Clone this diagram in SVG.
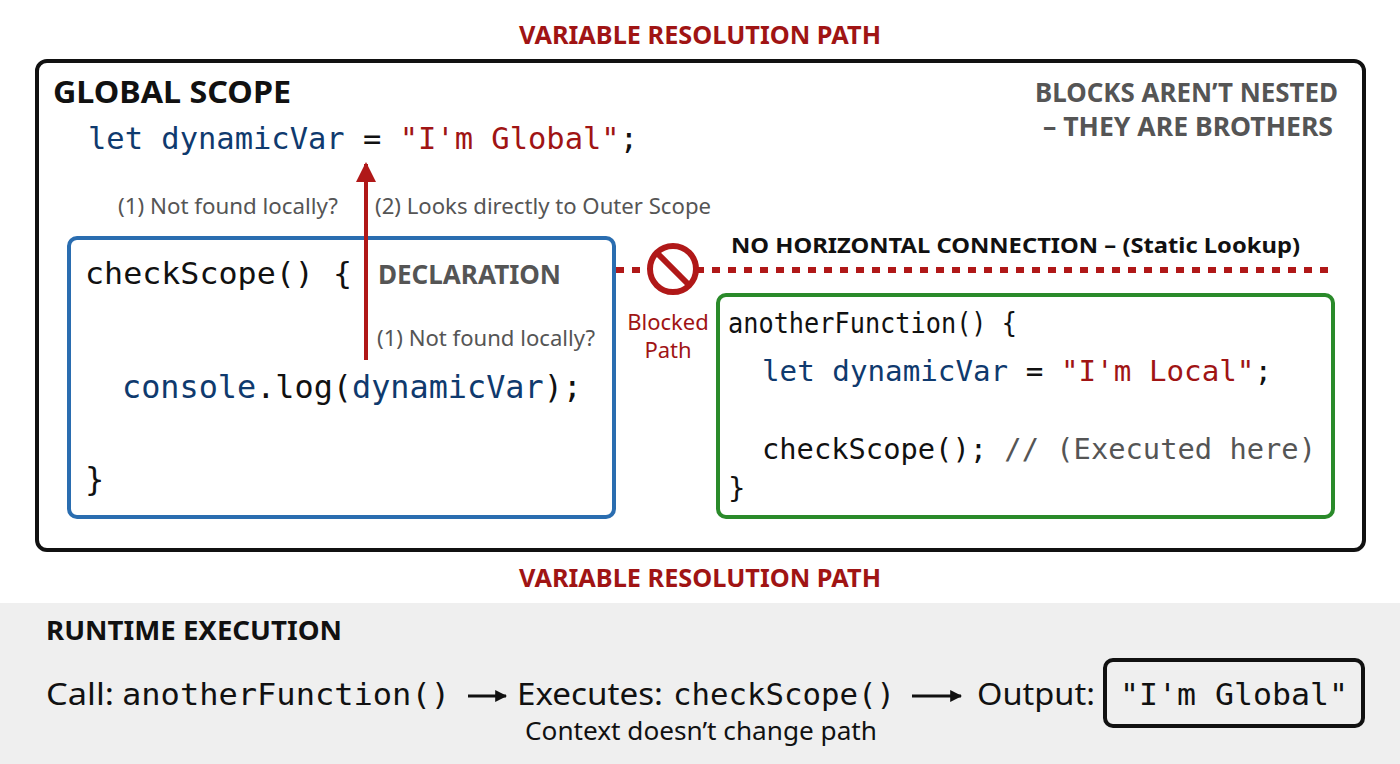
<svg xmlns="http://www.w3.org/2000/svg" width="1400" height="764" viewBox="0 0 1400 764">
<defs>
<style>
.s{font-family:"Noto Sans","Open Sans",sans-serif}
.m{font-family:"DejaVu Sans Mono","Liberation Mono",monospace}
.b{font-weight:bold}
.red{fill:#a01414}
.blue{fill:#0f3a6e}
.gr{fill:#555}
</style>
<marker id="ah" viewBox="0 0 10 10" refX="9" refY="5" markerWidth="5" markerHeight="5" orient="auto"><path d="M0,0L10,5L0,10z" fill="#b01818"/></marker>
<marker id="bh" viewBox="0 0 10 10" refX="9" refY="5" markerWidth="4" markerHeight="4" orient="auto"><path d="M0,0L10,5L0,10z" fill="#111"/></marker>
</defs>
<rect width="1400" height="764" fill="#fff"/>
<rect y="603" width="1400" height="161" fill="#efefef"/>
<text x="700" y="44" text-anchor="middle" class="s b red" font-size="25" textLength="362" lengthAdjust="spacingAndGlyphs">VARIABLE RESOLUTION PATH</text>
<text x="700" y="587" text-anchor="middle" class="s b red" font-size="25" textLength="362" lengthAdjust="spacingAndGlyphs">VARIABLE RESOLUTION PATH</text>
<g id="global">
<rect x="37" y="61" width="1327" height="489" rx="10" fill="none" stroke="#111" stroke-width="4"/>
<text x="53" y="103" class="s b" font-size="30" fill="#111" textLength="238" lengthAdjust="spacingAndGlyphs">GLOBAL SCOPE</text>
<text x="88" y="149" class="m" font-size="30" textLength="550" lengthAdjust="spacingAndGlyphs"><tspan class="blue">let dynamicVar</tspan><tspan fill="#111"> = </tspan><tspan class="red">"I'm Global"</tspan><tspan fill="#111">;</tspan></text>
<text x="1338" y="102" text-anchor="end" class="s b gr" font-size="26" textLength="303" lengthAdjust="spacingAndGlyphs">BLOCKS AREN’T NESTED</text>
<text x="1333" y="136" text-anchor="end" class="s b gr" font-size="26" textLength="290" lengthAdjust="spacingAndGlyphs">– THEY ARE BROTHERS</text>
<text x="338" y="214" text-anchor="end" class="s gr" font-size="21" textLength="220" lengthAdjust="spacingAndGlyphs">(1) Not found locally?</text>
<text x="375" y="214" class="s gr" font-size="21" textLength="336" lengthAdjust="spacingAndGlyphs">(2) Looks directly to Outer Scope</text>
</g>
<g id="checkScope">
<rect x="69" y="238" width="545" height="279" rx="8" fill="none" stroke="#2a6db0" stroke-width="4"/>
<text x="85" y="284" class="m" font-size="30" fill="#111" textLength="267" lengthAdjust="spacingAndGlyphs">checkScope() {</text>
<text x="378" y="284" class="s b gr" font-size="26" textLength="183" lengthAdjust="spacingAndGlyphs">DECLARATION</text>
<text x="377" y="346" class="s gr" font-size="21" textLength="218" lengthAdjust="spacingAndGlyphs">(1) Not found locally?</text>
<text x="122" y="398" class="m" font-size="32" textLength="460" lengthAdjust="spacingAndGlyphs"><tspan class="blue">console</tspan><tspan fill="#111">.log(</tspan><tspan class="blue">dynamicVar</tspan><tspan fill="#111">);</tspan></text>
<text x="85" y="490" class="m" font-size="32" fill="#111">}</text>
</g>
<g id="anotherFunction">
<rect x="718" y="295" width="615" height="222" rx="8" fill="none" stroke="#2a8a2a" stroke-width="4"/>
<text x="728" y="333" class="m" font-size="29" fill="#111" textLength="289" lengthAdjust="spacingAndGlyphs">anotherFunction() {</text>
<text x="762" y="381" class="m" font-size="29" textLength="510" lengthAdjust="spacingAndGlyphs"><tspan class="blue">let dynamicVar</tspan><tspan fill="#111"> = </tspan><tspan class="red">"I'm Local"</tspan><tspan fill="#111">;</tspan></text>
<text x="762" y="459" class="m" font-size="29" textLength="554" lengthAdjust="spacingAndGlyphs"><tspan fill="#111">checkScope(); </tspan><tspan fill="#555">// (Executed here)</tspan></text>
<text x="728" y="498" class="m" font-size="29" fill="#111">}</text>
</g>
<g id="connectors">
<line x1="366" y1="360" x2="366" y2="164" stroke="#b01818" stroke-width="4" marker-end="url(#ah)"/>
<line x1="616" y1="270" x2="1328" y2="270" stroke="#b01818" stroke-width="6" stroke-dasharray="8 8"/>
<circle cx="673" cy="269" r="23" fill="#fff" stroke="#b01818" stroke-width="6"/>
<line x1="657" y1="253" x2="689" y2="285" stroke="#b01818" stroke-width="6"/>
<line x1="468" y1="696" x2="506" y2="696" stroke="#111" stroke-width="3" marker-end="url(#bh)"/>
<line x1="912" y1="696" x2="961" y2="696" stroke="#111" stroke-width="3" marker-end="url(#bh)"/>
</g>
<text x="731" y="253" class="s b" font-size="22" fill="#111" textLength="569" lengthAdjust="spacingAndGlyphs">NO HORIZONTAL CONNECTION – (Static Lookup)</text>
<text x="668" y="330" text-anchor="middle" class="s red" font-size="22">Blocked</text>
<text x="668" y="358" text-anchor="middle" class="s red" font-size="22">Path</text>
<g id="runtime">
<text x="46" y="640" class="s b" font-size="26" fill="#111" textLength="296" lengthAdjust="spacingAndGlyphs">RUNTIME EXECUTION</text>
<text x="46" y="705" class="s" font-size="31" fill="#111" textLength="68" lengthAdjust="spacingAndGlyphs">Call:</text>
<text x="122" y="705" class="m" font-size="30" fill="#111" textLength="328" lengthAdjust="spacingAndGlyphs">anotherFunction()</text>
<text x="517" y="705" class="s" font-size="31" fill="#111" textLength="146" lengthAdjust="spacingAndGlyphs">Executes:</text>
<text x="673" y="705" class="m" font-size="30" fill="#111" textLength="222" lengthAdjust="spacingAndGlyphs">checkScope()</text>
<text x="977" y="705" class="s" font-size="31" fill="#111" textLength="118" lengthAdjust="spacingAndGlyphs">Output:</text>
<rect x="1105" y="660" width="258" height="66" rx="8" fill="none" stroke="#111" stroke-width="4"/>
<text x="1234" y="705" text-anchor="middle" class="m" font-size="30" fill="#111" textLength="228" lengthAdjust="spacingAndGlyphs">"I'm Global"</text>
<text x="701" y="740" text-anchor="middle" class="s" font-size="25" fill="#111" textLength="352" lengthAdjust="spacingAndGlyphs">Context doesn’t change path</text>
</g>
</svg>
